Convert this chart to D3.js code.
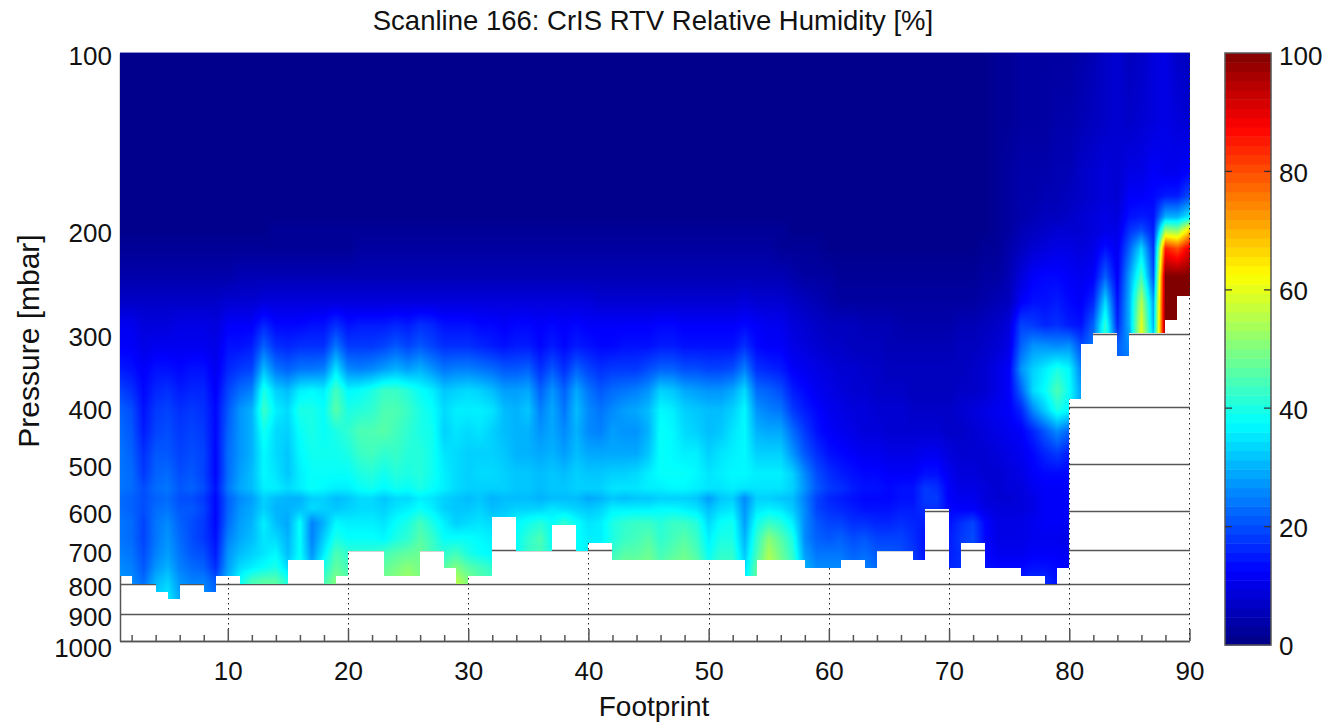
<!DOCTYPE html>
<html>
<head>
<meta charset="utf-8">
<style>
  body { margin: 0; background: #fff; }
  text { font-family: "Liberation Sans", Arial, sans-serif; fill: #111; }
</style>
<script src="https://cdn.jsdelivr.net/npm/d3@7"></script>
</head>
<body>
<svg width="1334" height="723"></svg>
<script>
const xTicks = [10, 20, 30, 40, 50, 60, 70, 80, 90];
const xMinorTicks = [2, 4, 6, 8, 12, 14, 16, 18, 22, 24, 26, 28, 32, 34, 36, 38, 42, 44, 46, 48, 52, 54, 56, 58, 62, 64, 66, 68, 72, 74, 76, 78, 82, 84, 86, 88];
const yTicks = [100, 200, 300, 400, 500, 600, 700, 800, 900, 1000];
const colorTicks = [0, 20, 40, 60, 80, 100];

// pressure levels of the rows below [mbar]
const levels = [100, 130, 160, 175, 190, 200, 215, 240, 265, 290, 315, 345, 375, 405, 440, 480, 520, 550, 572, 595, 630, 670, 710, 750, 790, 850];

// relative humidity per footprint, one array per level (short rows stop at the surface)
const rh100 = [1,1,1,1,1,1,1,1,1,1, 1,1,1,1,1,1,1,1,1,1, 1,1,1,1,1,1,1,1,1,1, 1,1,1,1,1,1,1,1,1,1, 1,1,1,1,1,1,1,1,1,1, 1,1,1,1,1,1,1,1,1,1, 1,1,1,1,1,1,1,1,1,1, 1,1,1,2,2,3,3,3,3,3, 4,5,7,8,6,7,9,10,7,6];
const rh130 = [1,1,1,1,1,1,1,1,1,1, 1,1,1,1,1,1,1,1,1,1, 1,1,1,1,1,1,1,1,1,1, 1,1,1,1,1,1,1,1,1,1, 1,1,1,1,1,1,1,1,1,1, 1,1,1,1,1,1,1,1,1,1, 1,1,1,1,1,1,1,1,1,1, 1,1,1,2,2,3,3,3,4,4, 5,6,7,8,7,8,9,10,9,8];
const rh160 = [1,1,1,1,1,1,1,1,1,1, 1,1,1,1,1,1,1,1,1,1, 1,1,1,1,1,1,1,1,1,1, 1,1,1,1,1,1,1,1,1,1, 1,1,1,1,1,1,1,1,1,1, 1,1,1,1,1,1,1,1,1,1, 1,1,1,1,1,1,1,1,1,1, 1,1,1,2,3,4,4,4,5,5, 7,8,9,8,10,10,12,11,11,13];
const rh175 = [1,1,1,1,1,1,1,1,1,1, 1,1,1,1,1,1,1,1,1,1, 1,1,1,1,1,1,1,1,1,1, 1,1,1,1,1,1,1,1,1,1, 1,1,1,1,1,1,1,1,1,1, 1,1,1,1,1,1,1,1,1,1, 1,1,1,1,1,1,1,1,1,1, 1,1,1,2,3,4,4,5,5,6, 7,8,9,8,12,12,13,15,15,20];
const rh190 = [1,1,1,1,1,1,1,1,1,1, 1,1,1,1,1,1,1,1,1,1, 1,1,1,1,1,1,1,1,1,1, 1,1,1,1,1,1,1,1,1,1, 1,1,1,1,1,1,1,1,1,1, 1,1,1,1,1,1,1,1,1,1, 1,1,1,1,1,1,1,1,1,1, 1,1,1,2,3,4,5,6,6,7, 8,9,10,9,14,15,14,30,30,36];
const rh200 = [1,1,1,1,1,1,1,1,1,1, 1,1,1,2,2,2,2,2,2,2, 2,2,2,2,2,2,2,2,2,2, 2,2,2,2,2,2,2,2,2,2, 2,2,2,2,2,2,2,2,2,2, 2,2,2,2,2,2,1,1,1,1, 1,1,1,1,1,1,1,1,1,1, 1,1,1,2,3,5,6,7,8,8, 8,9,10,10,17,20,15,52,50,66];
const rh215 = [2,2,2,2,2,2,2,2,2,2, 2,2,2,2,2,2,2,2,2,2, 3,3,3,3,3,3,3,3,3,3, 3,3,3,3,3,3,3,3,3,3, 3,3,3,3,3,3,3,3,3,3, 3,3,3,3,3,2,2,2,2,1, 1,1,1,1,1,1,1,1,1,1, 1,1,2,2,4,6,8,9,10,10, 9,10,14,11,22,34,17,85,80,90];
const rh240 = [4,4,4,4,4,4,4,4,4,4, 5,5,5,5,5,5,5,5,5,5, 5,5,5,5,5,5,5,5,5,5, 5,5,5,5,5,5,5,5,5,5, 5,5,5,5,5,5,5,5,5,5, 5,5,5,5,5,5,4,3,3,3, 2,2,2,2,2,2,2,2,2,2, 2,2,3,3,5,9,12,13,13,12, 11,12,22,12,28,44,20,100,100,100];
const rh265 = [7,7,7,7,7,7,7,7,7,8, 8,8,9,9,9,9,9,9,9,9, 9,9,9,9,9,9,9,9,9,9, 9,9,9,9,9,9,9,9,9,9, 8,8,8,8,8,8,8,8,8,8, 8,8,9,8,8,8,7,6,5,4, 3,3,3,3,3,3,3,3,3,3, 3,3,4,5,6,12,14,14,15,13, 12,16,34,14,30,55,28,100,100,100];
const rh290 = [11,11,9,9,9,10,10,10,9,12, 12,12,16,13,13,13,14,14,17,14, 15,15,15,16,15,17,16,14,14,14, 13,13,12,13,13,12,13,12,13,12, 12,12,12,12,12,13,13,12,12,12, 12,12,13,12,11,11,9,8,7,6, 6,6,5,5,5,4,4,4,4,4, 5,5,6,7,9,19,18,16,17,15, 14,22,42,16,30,60,30,100,100,100];
const rh315 = [12,12,10,11,11,11,11,11,10,14, 14,15,22,17,16,17,17,17,24,18, 18,18,19,21,19,21,19,17,17,17, 16,15,14,15,15,13,15,13,15,14, 13,13,14,14,14,15,15,14,14,14, 14,14,17,13,12,12,10,9,8,7, 7,6,6,6,5,5,5,5,5,5, 6,6,7,8,10,22,27,27,26,27, 20,24,44,22,26,62,34,98,100,100];
const rh345 = [15,14,12,14,14,13,14,14,11,16, 18,19,31,24,22,24,24,25,35,26, 25,26,28,30,28,30,27,24,25,25, 24,23,21,21,22,17,21,17,22,19, 17,18,18,18,20,22,22,20,20,19, 19,20,25,17,16,15,12,11,10,9, 8,8,7,7,6,6,6,6,6,6, 6,7,8,10,12,27,33,36,40,37, 25,28,40,22,24];
const rh375 = [19,17,13,16,17,15,16,16,12,19, 23,25,40,33,31,36,37,36,44,37, 38,40,43,43,41,38,36,32,33,34, 33,31,28,28,29,22,27,22,29,24, 21,23,24,25,27,33,32,29,28,27, 27,29,34,23,22,20,15,13,11,10, 9,8,8,7,7,7,6,6,6,6, 7,7,8,10,12,22,34,38,45,38, 28];
const rh405 = [22,20,14,18,19,17,18,17,13,21, 27,30,43,36,34,40,40,38,46,40, 41,42,45,45,43,40,38,34,36,36, 36,35,31,30,32,25,29,24,31,26, 24,26,28,29,31,37,36,33,32,31, 31,33,37,27,25,24,18,15,13,11, 10,9,9,8,8,8,7,7,7,7, 8,9,10,11,12,16,26,33,40,37];
const rh440 = [23,21,15,19,20,18,19,18,13,22, 27,30,39,34,33,38,40,38,40,42, 45,45,46,44,42,40,39,33,35,34, 35,33,31,30,30,27,29,26,30,26, 25,28,27,27,30,38,37,34,33,31, 32,35,37,30,29,29,23,18,14,12, 11,10,9,9,8,8,8,8,8,7, 7,8,9,10,11,12,16,21,26,22];
const rh480 = [24,22,17,21,21,19,20,19,13,23, 27,30,37,34,32,37,39,39,39,40, 43,44,42,43,41,41,39,35,34,33, 33,33,32,30,30,29,30,28,31,29, 29,29,29,29,32,38,37,36,36,33, 35,36,37,33,33,33,27,21,17,14, 13,12,11,11,10,10,10,11,11,9, 8,8,8,9,10,11,13,16,18,15];
const rh520 = [24,23,18,22,23,20,21,19,13,23, 28,31,37,35,32,36,38,38,38,38, 40,41,39,41,40,41,39,36,34,33, 34,34,33,32,32,31,32,31,33,32, 32,33,33,34,36,38,38,38,37,35, 36,37,37,36,36,36,33,26,20,17, 15,14,13,13,12,12,12,14,14,11, 9,9,8,8,9,10,12,13,13,13];
const rh550 = [24,23,20,23,24,21,22,20,14,24, 29,31,36,36,34,36,38,37,36,36, 38,39,37,39,38,40,38,36,34,33, 33,33,33,32,32,31,32,32,33,33, 33,35,35,35,36,36,37,37,36,35, 35,36,35,35,35,35,33,27,21,18, 17,15,14,14,13,14,14,18,17,12, 10,10,9,8,9,9,11,12,12,12];
const rh572 = [23,22,20,22,23,20,20,18,13,22, 26,28,33,31,30,30,33,33,31,32, 34,34,32,34,34,36,35,33,32,31, 32,30,31,31,31,30,31,31,31,29, 30,32,31,32,32,33,33,33,32,28, 32,33,26,33,33,32,31,25,19,16, 15,14,13,13,13,14,14,18,18,12, 11,11,9,8,8,9,10,12,12,12];
const rh595 = [23,22,20,23,24,21,21,19,13,22, 27,29,33,30,30,31,34,33,32,33, 34,34,33,35,36,38,36,33,32,32, 33,31,32,33,33,33,35,34,33,32, 33,36,36,36,36,37,37,36,35,31, 34,35,27,35,36,35,32,26,19,17, 16,15,14,14,14,15,15,17,17,13, 12,12,10,9,9,9,10,12,12,12];
const rh630 = [24,23,19,24,26,22,20,18,13,23, 28,30,36,31,29,38,25,30,37,36, 36,36,35,38,40,44,40,36,33,34, 35,34,34,37,39,41,38,42,38,35, 36,40,42,43,43,41,43,43,41,34, 38,39,28,39,43,41,36,26,21,19, 19,17,17,16,16,17,16,15,13,14, 17,19,13,10,10,10,11,12,12,11];
const rh670 = [24,23,19,24,27,23,20,18,14,25, 29,31,35,34,30,38,25,33,40,38, 38,38,37,40,42,46,43,38,38,38, 37,36,36,38,42,45,38,45,38,36, 36,40,43,44,46,42,44,46,43,36, 40,40,30,42,51,46,40,26,22,21, 22,20,21,19,19,19,17,14,12,15, 18,20,13,10,10,10,11,11,11,10];
const rh710 = [25,24,20,25,28,24,21,20,15,27, 31,33,35,37,31,38,27,36,45,42, 42,42,44,46,47,48,44,42,44,40, 38,37,37,38,43,44,40,44,38,36, 38,43,46,46,48,44,46,48,45,38, 42,42,32,44,54,48,42,28,24,24, 24,22,23,21,21,20,18,14,12,15, 17,18,13,11,11,11,12,12,12,11];
const rh750 = [26,25,21,27,30,25,23,22,17,28, 34,36,38,40,34,40,30,40,47,44, 44,46,47,49,51,49,46,46,50,46, 44,42,40,40,45,46,42,46,40,38, 40,46,49,49,50,46,49,50,48,40, 44,44,34,47,56,50,44,30,26,26, 26,24,25,23,22,21,19,15,13,16, 17,17,14,13,13,13,14,14,13,12];
const rh790 = [27,26,23,30,33,27,25,25,21,30, 38,44,46,46,40,42,34,44,50,46, 44,48,49,51,53,50,46,52,55,50, 46,44,40,40,46,46,42,46,40,38, 40,47,50,50,51,47,50,51,49,40, 44,44,36,47,57,50,44,30,26,26, 26,24,25,23,22,21,19,15,13,16, 17,17,14,14,15,15,17,16,14,12];
const rh850 = [28,28,26,33,36,29,27,27,24,30];

const rhRows = [rh100, rh130, rh160, rh175, rh190, rh200, rh215, rh240, rh265, rh290, rh315, rh345, rh375, rh405, rh440, rh480, rh520, rh550, rh572, rh595, rh630, rh670, rh710, rh750, rh790, rh850];

// lowest pressure reached by the mesh between footprint i and i+1
const surface = [775,800,800,824,849,800,800,824,775,775, 800,800,800,800,729,729,729,800,775,704, 704,704,775,775,775,704,704,751,800,775, 775,616,616,704,704,704,636,636,704,682, 682,729,729,729,729,729,729,729,729,729, 729,729,775,729,729,729,729,751,751,751, 729,729,751,704,704,704,729,596,596,751, 682,682,751,751,751,775,775,800,751,388, 312,299,299,327,299,299,299,285,259];

const svg = d3.select('svg');
const plot = { left: 120, right: 1190, top: 53, bottom: 641 };
const bar = { left: 1225, right: 1271, top: 53, bottom: 645 };
const fontSize = 26;

const xScale = d3.scaleLinear().domain([1, 90]).range([plot.left - 0.4, plot.right - 0.5]);
const yScale = d3.scaleLog().domain([100, 1000]).range([plot.top, plot.bottom]);
const barScale = d3.scaleLinear().domain([0, 100]).range([bar.bottom, bar.top]);

const jet = d3.scaleLinear()
  .domain([0, 12.5, 37.5, 62.5, 87.5, 100])
  .range(['#000083', '#0000ff', '#00ffff', '#ffff00', '#ff0000', '#800000']);
const palette = d3.range(64).map(i => d3.rgb(jet((i + 0.5) / 64 * 100)));
const shades = d3.range(1001).map(i => d3.rgb(jet(i / 10)));

// rows that stop early keep the last value above them
const filled = [];
rhRows.forEach((row, r) => {
  filled.push(d3.range(90).map(i => row[i] !== undefined ? row[i] : filled[r - 1][i]));
});
const levelY = levels.map(p => yScale(p));

// mesh colours, shaded between footprints and levels
const canvas = document.createElement('canvas');
const meshW = plot.right - plot.left;
const meshH = plot.bottom - plot.top;
canvas.width = meshW;
canvas.height = meshH;
const ctx = canvas.getContext('2d');
const image = ctx.createImageData(meshW, meshH);
for (let py = 0; py < meshH; py++) {
  const yPix = plot.top + py + 0.5;
  const p = yScale.invert(yPix);
  const r = Math.max(0, Math.min(levels.length - 2, d3.bisectRight(levels, p) - 1));
  const t = Math.min(1, (yPix - levelY[r]) / (levelY[r + 1] - levelY[r]));
  for (let px = 0; px < meshW; px++) {
    const f = xScale.invert(plot.left + px + 0.5);
    const i = Math.max(0, Math.min(88, Math.floor(f - 1)));
    if (p > surface[i]) continue;
    const s = Math.min(1, Math.max(0, f - 1 - i));
    const top = filled[r][i] * (1 - s) + filled[r][i + 1] * s;
    const low = filled[r + 1][i] * (1 - s) + filled[r + 1][i + 1] * s;
    const c = shades[Math.round((top * (1 - t) + low * t) * 10)];
    const k = (py * meshW + px) * 4;
    image.data[k] = c.r;
    image.data[k + 1] = c.g;
    image.data[k + 2] = c.b;
    image.data[k + 3] = 255;
  }
}
ctx.putImageData(image, 0, 0);

// grid sits under the mesh and only shows in the white part
svg.append('g')
  .selectAll('line')
  .data(yTicks.slice(1, -1))
  .join('line')
  .attr('x1', plot.left)
  .attr('x2', plot.right)
  .attr('y1', d => Math.round(yScale(d)) + 0.5)
  .attr('y2', d => Math.round(yScale(d)) + 0.5)
  .attr('stroke', '#555')
  .attr('stroke-width', 1.5);

svg.append('g')
  .selectAll('line')
  .data(xTicks.slice(0, -1))
  .join('line')
  .attr('x1', d => Math.round(xScale(d)) + 0.5)
  .attr('x2', d => Math.round(xScale(d)) + 0.5)
  .attr('y1', plot.top)
  .attr('y2', plot.bottom)
  .attr('stroke', '#222')
  .attr('stroke-dasharray', '1.5 3.5');

const xAxis = d3.axisBottom(xScale).tickValues(xTicks).tickSizeInner(-12).tickSizeOuter(0).tickPadding(26);
const xMinor = d3.axisBottom(xScale).tickValues(xMinorTicks).tickSizeInner(-6).tickSizeOuter(0).tickFormat('');
const yAxis = d3.axisLeft(yScale).tickValues(yTicks).tickFormat(d3.format('d')).tickSize(0).tickPadding(8);

const xg = svg.append('g').attr('transform', `translate(0, ${plot.bottom})`).call(xAxis);
svg.append('g').attr('transform', `translate(0, ${plot.bottom})`).call(xMinor);
const yg = svg.append('g').attr('transform', `translate(${plot.left}, 0)`).call(yAxis);

svg.selectAll('.domain, .tick line').attr('stroke', '#555').attr('stroke-width', 1.5);
xg.selectAll('text').style('font-size', fontSize + 'px').attr('fill', '#111').attr('y', 21);
yg.selectAll('text').style('font-size', fontSize + 'px').attr('fill', '#111')
  .attr('dy', d => d === 1000 ? '0.58em' : '0.45em');

svg.append('image')
  .attr('x', plot.left)
  .attr('y', plot.top)
  .attr('width', meshW)
  .attr('height', meshH)
  .attr('href', canvas.toDataURL());

// top and right edges run over the mesh
svg.append('line')
  .attr('x1', plot.left).attr('x2', plot.right)
  .attr('y1', plot.top - 0.5).attr('y2', plot.top - 0.5)
  .attr('stroke', '#8f8fd8');
svg.append('line')
  .attr('x1', plot.right - 0.5).attr('x2', plot.right - 0.5)
  .attr('y1', plot.top).attr('y2', plot.bottom)
  .attr('stroke', '#222')
  .attr('stroke-dasharray', '1.5 3.5');

// colour bar
svg.append('g')
  .selectAll('rect')
  .data(palette)
  .join('rect')
  .attr('x', bar.left)
  .attr('width', bar.right - bar.left)
  .attr('y', (d, i) => barScale((i + 1) / 64 * 100))
  .attr('height', (bar.bottom - bar.top) / 64 + 0.5)
  .attr('fill', d => d);
svg.append('rect')
  .attr('x', bar.left).attr('y', bar.top)
  .attr('width', bar.right - bar.left).attr('height', bar.bottom - bar.top)
  .attr('fill', 'none').attr('stroke', '#555').attr('stroke-width', 1.5);

const barAxis = svg.append('g');
barAxis.selectAll('path.tick-mark')
  .data(colorTicks.slice(1, -1))
  .join('path')
  .attr('class', 'tick-mark')
  .attr('d', d => `M${bar.left},${barScale(d)}h7M${bar.right},${barScale(d)}h-7`)
  .attr('stroke', '#333')
  .attr('stroke-width', 1.2);
barAxis.selectAll('text')
  .data(colorTicks)
  .join('text')
  .attr('x', bar.right + 8)
  .attr('y', d => barScale(d) + (d === 100 ? 3 : 1))
  .attr('dy', '0.36em')
  .style('font-size', fontSize + 'px')
  .text(d => d);

// titles
svg.append('text')
  .attr('x', 653).attr('y', 30)
  .attr('text-anchor', 'middle')
  .style('font-size', '27.5px')
  .text('Scanline 166: CrIS RTV Relative Humidity [%]');
svg.append('text')
  .attr('x', 654).attr('y', 716)
  .attr('text-anchor', 'middle')
  .style('font-size', '28px')
  .text('Footprint');
svg.append('text')
  .attr('transform', 'translate(39, 341) rotate(-90)')
  .attr('text-anchor', 'middle')
  .style('font-size', '30px')
  .text('Pressure [mbar]');
</script>
</body>
</html>
